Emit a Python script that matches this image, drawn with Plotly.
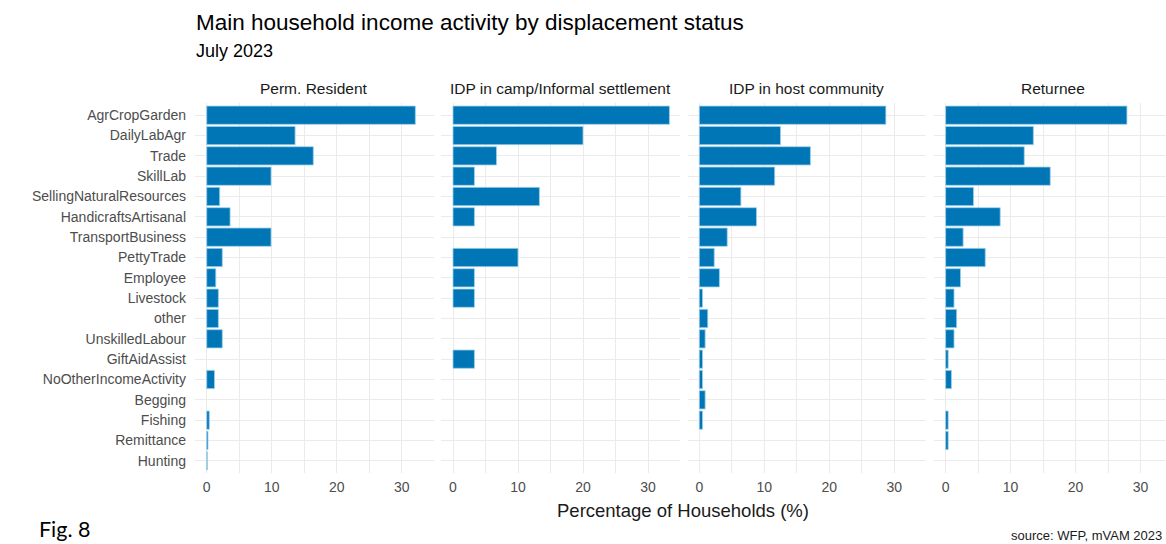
import plotly.graph_objects as go

categories = ["AgrCropGarden", "DailyLabAgr", "Trade", "SkillLab", "SellingNaturalResources",
              "HandicraftsArtisanal", "TransportBusiness", "PettyTrade", "Employee", "Livestock",
              "other", "UnskilledLabour", "GiftAidAssist", "NoOtherIncomeActivity", "Begging",
              "Fishing", "Remittance", "Hunting"]

panels = ["Perm. Resident", "IDP in camp/Informal settlement", "IDP in host community", "Returnee"]

perm_resident = [32.1, 13.6, 16.4, 9.9, 2.0, 3.6, 9.9, 2.4, 1.4, 1.8,
                 1.8, 2.4, None, 1.2, None, 0.4, 0.2, 0.1]
idp_camp = [33.3, 20.0, 6.7, 3.3, 13.3, 3.3, None, 10.0, 3.3, 3.3,
            None, None, 3.3, None, None, None, None, None]
idp_host = [28.7, 12.5, 17.1, 11.6, 6.4, 8.8, 4.3, 2.3, 3.1, 0.5,
            1.3, 0.9, 0.5, 0.5, 0.9, 0.5, None, None]
returnee = [27.9, 13.5, 12.1, 16.1, 4.3, 8.4, 2.7, 6.1, 2.3, 1.3,
            1.7, 1.3, 0.4, 0.9, None, 0.4, 0.4, None]

series = [perm_resident, idp_camp, idp_host, returnee]
x_ticks = [0, 10, 20, 30]

W, H = 1166, 544
L, R_EDGE = 195, 1166
TOP, BOT = 103, 473
PW = R_EDGE - L
PH = BOT - TOP


def px2x(px):
    return (px - L) / PW


def px2y(py):
    return (BOT - py) / PH


BAR = "#0076B7"
GRID = "#EBEBEB"
FONT = "Liberation Sans, Arial, sans-serif"

pitch = 246.3
width = 238.5
scale = 6.5  # px per unit
xmin = -1.8

fig = go.Figure()
for i, (name, vals) in enumerate(zip(panels, series)):
    left = L + i * pitch
    right = min(left + width, R_EDGE)
    xa = "xaxis" if i == 0 else f"xaxis{i+1}"
    xref = "x" if i == 0 else f"x{i+1}"
    fig.add_trace(go.Bar(
        y=categories, x=vals, orientation="h",
        marker=dict(color=BAR, line=dict(color="#9FD0EA", width=0.8)),
        width=0.9, xaxis=xref, yaxis="y", showlegend=False,
        hovertemplate="%{y}: %{x}%<extra>" + name + "</extra>",
    ))
    fig.layout[xa] = dict(
        domain=[px2x(left), px2x(right)],
        range=[xmin, xmin + (right - left) / scale],
        tickvals=x_ticks, ticktext=[str(v) for v in x_ticks],
        showgrid=True, gridcolor=GRID, gridwidth=1,
        minor=dict(dtick=5, tick0=0, showgrid=True, gridcolor=GRID, gridwidth=0.6),
        zeroline=False, showline=False, ticks="",
        tickfont=dict(family=FONT, size=14, color="#4D4D4D"),
        ticklabelstandoff=4,
        anchor="y",
        fixedrange=True,
    )
    fig.add_annotation(
        x=px2x((left + left + width) / 2), y=px2y(89), xref="paper", yref="paper",
        text=name, showarrow=False, xanchor="center", yanchor="middle",
        font=dict(family=FONT, size=15.5, color="#1A1A1A"),
    )

fig.update_layout(
    yaxis=dict(
        domain=[0, 1],
        categoryorder="array", categoryarray=categories,
        range=[len(categories) - 0.4, -0.6],
        showgrid=True, gridcolor=GRID, gridwidth=1,
        zeroline=False, showline=False, ticks="",
        tickfont=dict(family=FONT, size=14, color="#4D4D4D"),
        ticklabelstandoff=8,
        anchor="x",
        fixedrange=True,
    ),
    width=W, height=H,
    margin=dict(l=L, r=W - R_EDGE, t=TOP, b=H - BOT, pad=0),
    paper_bgcolor="white", plot_bgcolor="white",
    bargap=0.1,
)

# Title & subtitle
fig.add_annotation(x=px2x(194), y=px2y(22), xref="paper", yref="paper",
                   text="Main household income activity by displacement status",
                   showarrow=False, xanchor="left", yanchor="middle",
                   font=dict(family=FONT, size=22.5, color="#000000"))
fig.add_annotation(x=px2x(194), y=px2y(51), xref="paper", yref="paper",
                   text="July 2023", showarrow=False, xanchor="left", yanchor="middle",
                   font=dict(family=FONT, size=18, color="#000000"))
# Axis title
fig.add_annotation(x=px2x(683), y=px2y(510), xref="paper", yref="paper",
                   text="Percentage of Households (%)", showarrow=False,
                   xanchor="center", yanchor="middle",
                   font=dict(family=FONT, size=18.5, color="#1A1A1A"))
# Fig label and source
fig.add_annotation(x=px2x(37), y=px2y(529), xref="paper", yref="paper",
                   text="Fig. 8", showarrow=False, xanchor="left", yanchor="middle",
                   font=dict(family="Lato, Carlito, sans-serif", size=21.5, color="#000000"))
fig.add_annotation(x=px2x(1164), y=px2y(535), xref="paper", yref="paper",
                   text="source: WFP, mVAM 2023", showarrow=False, xanchor="right", yanchor="middle",
                   font=dict(family=FONT, size=13, color="#1A1A1A"))

fig.write_html("out.html", config={"displayModeBar": False},
               post_script="document.body.style.margin='0';document.body.style.overflow='hidden';")
